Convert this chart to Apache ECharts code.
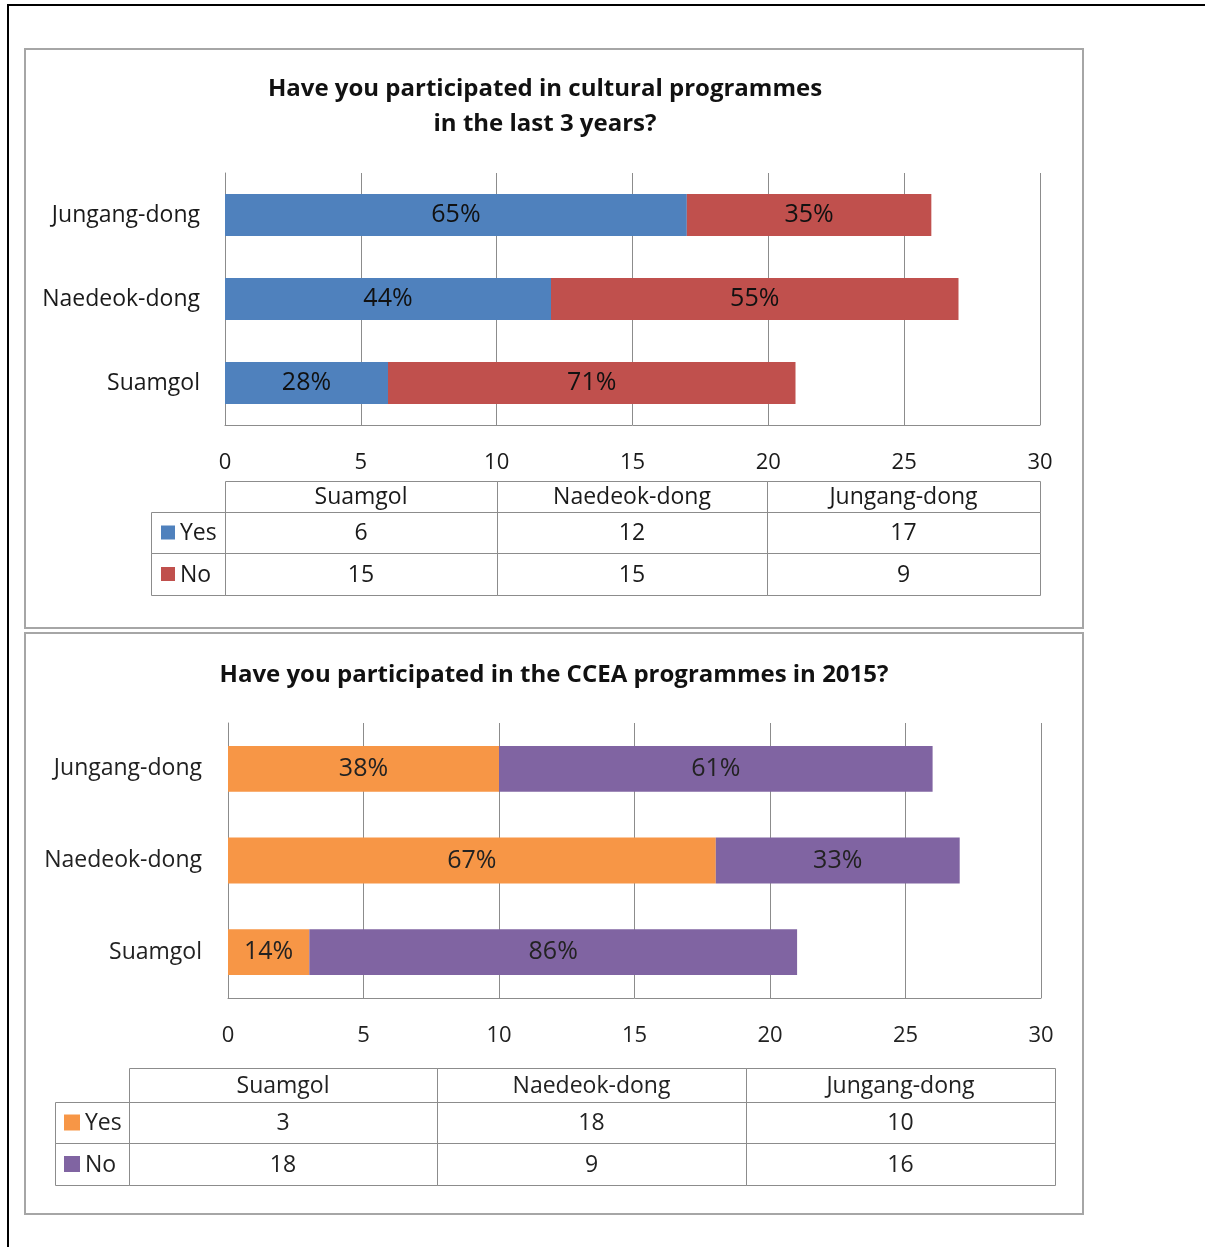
<!DOCTYPE html>
<html>
<head>
<meta charset="utf-8">
<title>Participation in cultural and CCEA programmes</title>
<script src="https://cdn.jsdelivr.net/npm/echarts@6/dist/echarts.min.js"></script>
<style>
  html, body { margin: 0; padding: 0; background: #ffffff; }
  #chart { width: 1205px; height: 1247px; }
</style>
</head>
<body>
<div id="chart"></div>
<script>
// Neighbourhoods, listed bottom-to-top on the bar axis and left-to-right in the tables
const categories = ['Suamgol', 'Naedeok-dong', 'Jungang-dong'];

// Cultural programmes in the last 3 years (respondent counts)
const culturalYes = [6, 12, 17];
const culturalNo = [15, 15, 9];
const culturalYesPct = ['28%', '44%', '65%'];
const culturalNoPct = ['71%', '55%', '35%'];

// CCEA programmes in 2015 (respondent counts)
const cceaYes = [3, 18, 10];
const cceaNo = [18, 9, 16];
const cceaYesPct = ['14%', '67%', '38%'];
const cceaNoPct = ['86%', '33%', '61%'];

// Value axis
const axisMin = 0;
const axisMax = 30;
const axisStep = 5;

const seriesNames = ['Yes', 'No'];
const FONT = '"Open Sans", Lato, sans-serif';
const GRID_GRAY = '#8c8c8c';

const chart = echarts.init(document.getElementById('chart'), null, { renderer: 'canvas' });

function valueAxis(gridIndex, textColor) {
  return {
    type: 'value', gridIndex, min: axisMin, max: axisMax, interval: axisStep,
    axisLine: { show: true, lineStyle: { color: GRID_GRAY, width: 1 } },
    axisTick: { show: false },
    splitLine: { show: true, lineStyle: { color: GRID_GRAY, width: 1 } },
    axisLabel: { margin: 27, fontFamily: FONT, fontSize: 22, color: textColor }
  };
}

function categoryAxis(gridIndex, textColor, margin) {
  return {
    type: 'category', gridIndex, data: categories,
    axisLine: { show: true, lineStyle: { color: GRID_GRAY, width: 1 } },
    axisTick: { show: false },
    axisLabel: { margin, fontFamily: FONT, fontSize: 23, color: textColor, padding: [4, 0, 0, 0] }
  };
}

function barSeries(name, axisIndex, stack, values, pct, color, textColor) {
  return {
    name, type: 'bar', stack, xAxisIndex: axisIndex, yAxisIndex: axisIndex,
    data: values, barWidth: '50%', itemStyle: { color },
    emphasis: { disabled: true },
    label: {
      show: true, position: 'inside', fontFamily: FONT, fontSize: 25, color: textColor,
      formatter: (p) => pct[p.dataIndex]
    }
  };
}

// Data table under each bar chart, built from the same arrays
function tableElements(t, rows) {
  const els = [];
  const line = { fill: 'none', stroke: GRID_GRAY, lineWidth: 1 };
  const cell = (x, y, w, h) => ({ type: 'rect', shape: { x: x + 0.5, y: y + 0.5, width: w, height: h }, style: line, silent: true });
  const text = (s, x, y, align) => ({
    type: 'text', x, y: y + 1, silent: true,
    style: { text: s, font: t.fontSize + 'px ' + FONT, fill: t.color, align, verticalAlign: 'middle', textAlign: align, textVerticalAlign: 'middle' }
  });
  // header row with the neighbourhood names
  for (let i = 0; i < categories.length; i++) {
    const x = t.colX[i], w = t.colX[i + 1] - x;
    els.push(cell(x, t.rowY[0], w, t.rowY[1] - t.rowY[0]));
    els.push(text(categories[i], x + w / 2, (t.rowY[0] + t.rowY[1]) / 2, 'center'));
  }
  // one row per series: legend key + counts
  rows.forEach((r, ri) => {
    const y0 = t.rowY[ri + 1], y1 = t.rowY[ri + 2], cy = (y0 + y1) / 2;
    els.push(cell(t.legendX, y0, t.colX[0] - t.legendX, y1 - y0));
    els.push({ type: 'rect', silent: true, shape: { x: t.swatchX, y: cy - t.swatch / 2, width: t.swatch, height: t.swatch }, style: { fill: r.color } });
    els.push(text(r.name, t.swatchX + t.swatch + 5, cy, 'left'));
    for (let i = 0; i < categories.length; i++) {
      const x = t.colX[i], w = t.colX[i + 1] - x;
      els.push(cell(x, y0, w, y1 - y0));
      els.push(text(String(r.values[i]), x + w / 2, cy, 'center'));
    }
  });
  return els;
}

const titleText = (s, x, y, color) => ({
  type: 'text', x, y, silent: true,
  style: { text: s, font: 'bold 24px ' + FONT, fill: color, align: 'center', verticalAlign: 'middle', textAlign: 'center', textVerticalAlign: 'middle' }
});

const graphics = [
  // page rules
  { type: 'line', silent: true, shape: { x1: 8, y1: 5, x2: 1205, y2: 5 }, style: { stroke: '#000', lineWidth: 2 } },
  { type: 'line', silent: true, shape: { x1: 8, y1: 4, x2: 8, y2: 1247 }, style: { stroke: '#000', lineWidth: 2 } },
  // chart frames
  { type: 'rect', silent: true, shape: { x: 25, y: 49, width: 1058, height: 579 }, style: { fill: 'none', stroke: '#a6a6a6', lineWidth: 2 } },
  { type: 'rect', silent: true, shape: { x: 25, y: 633, width: 1058, height: 581 }, style: { fill: 'none', stroke: '#a6a6a6', lineWidth: 2 } },
  // titles
  titleText('Have you participated in cultural programmes', 545, 89, '#111'),
  titleText('in the last 3 years?', 545, 124, '#111'),
  titleText('Have you participated in the CCEA programmes in 2015?', 554, 675, '#111'),
  ...tableElements(
    { legendX: 151, colX: [225, 497, 767, 1040], rowY: [481, 512, 553, 595], swatchX: 161, swatch: 14, fontSize: 23, color: '#1a1a1a' },
    [{ name: seriesNames[0], color: '#4f81bd', values: culturalYes },
     { name: seriesNames[1], color: '#c0504d', values: culturalNo }]
  ),
  ...tableElements(
    { legendX: 55, colX: [129, 437, 746, 1055], rowY: [1068, 1102, 1143, 1185], swatchX: 64, swatch: 16, fontSize: 23, color: '#222' },
    [{ name: seriesNames[0], color: '#f79646', values: cceaYes },
     { name: seriesNames[1], color: '#8064a2', values: cceaNo }]
  )
];

chart.setOption({
  animation: false,
  backgroundColor: '#ffffff',
  grid: [
    { left: 225, top: 173, width: 815, height: 252, containLabel: false },
    { left: 228, top: 723, width: 813, height: 275, containLabel: false }
  ],
  xAxis: [valueAxis(0, '#1a1a1a'), valueAxis(1, '#222')],
  yAxis: [categoryAxis(0, '#1a1a1a', 25), categoryAxis(1, '#222', 26)],
  series: [
    barSeries(seriesNames[0], 0, 'cultural', culturalYes, culturalYesPct, '#4f81bd', '#111'),
    barSeries(seriesNames[1], 0, 'cultural', culturalNo, culturalNoPct, '#c0504d', '#111'),
    barSeries(seriesNames[0], 1, 'ccea', cceaYes, cceaYesPct, '#f79646', '#222'),
    barSeries(seriesNames[1], 1, 'ccea', cceaNo, cceaNoPct, '#8064a2', '#222')
  ],
  graphic: { elements: graphics }
});
</script>
</body>
</html>
